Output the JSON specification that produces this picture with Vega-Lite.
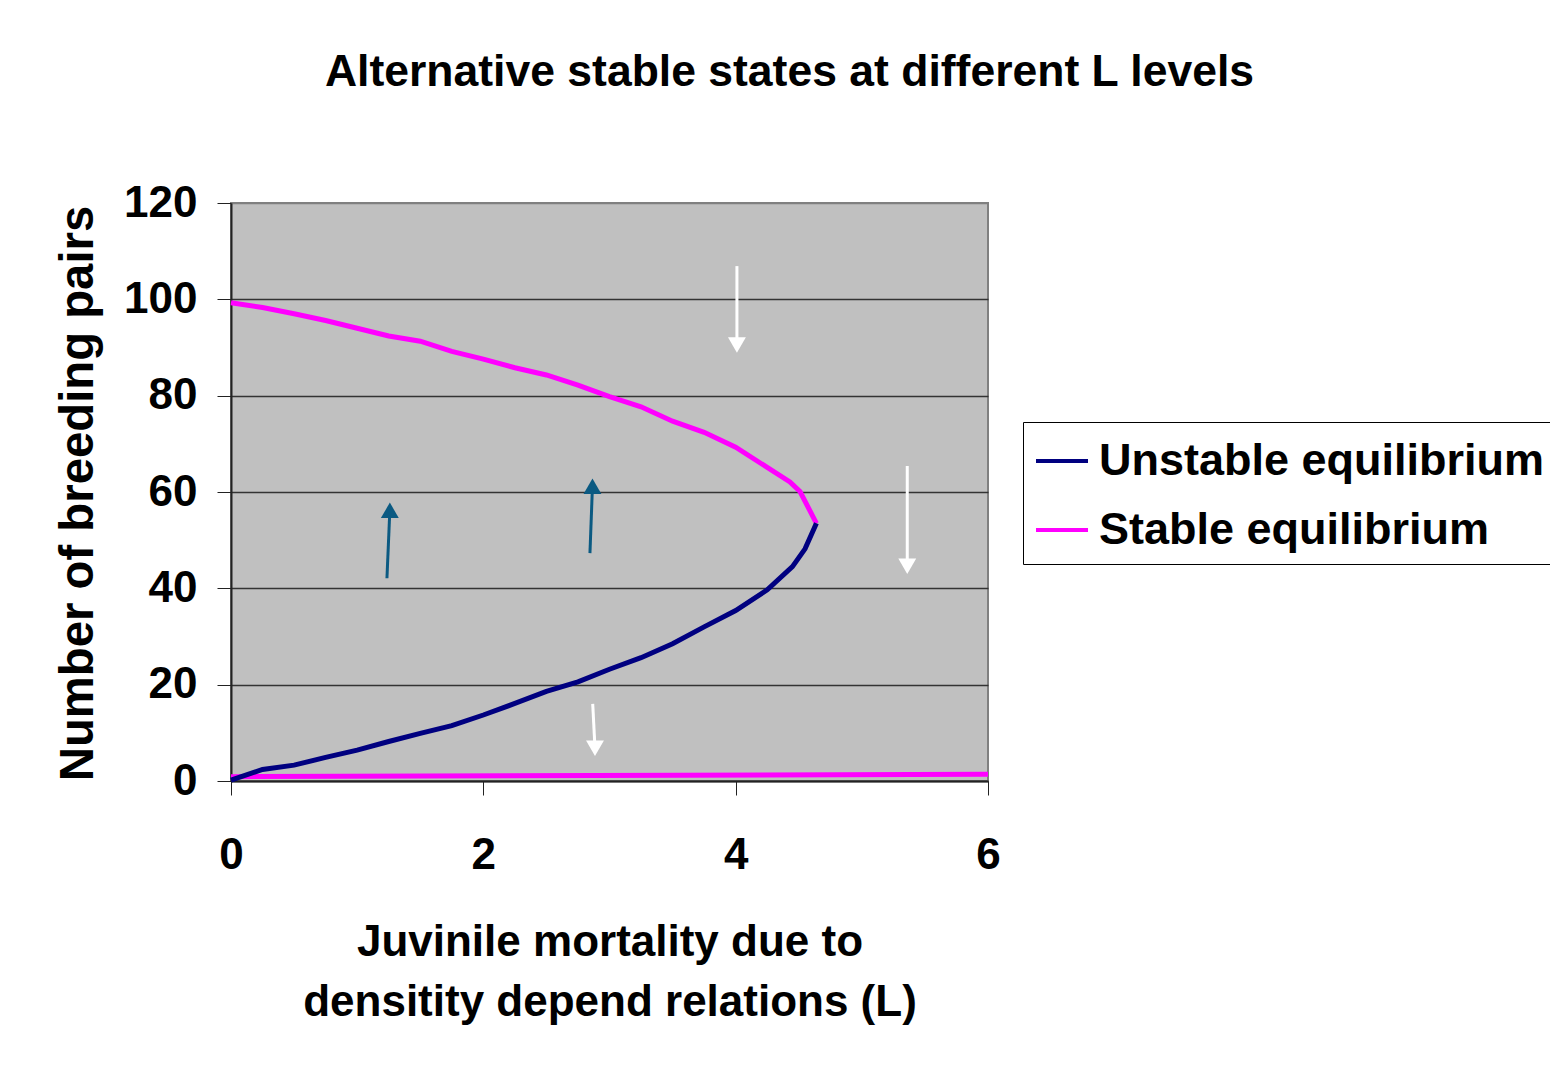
{
  "$schema": "https://vega.github.io/schema/vega-lite/v6.json",
  "width": 757,
  "height": 578,
  "autosize": {"type": "none"},
  "padding": {"left": 231, "top": 203, "right": 562, "bottom": 284},
  "background": "#FFFFFF",
  "title": {
    "text": "Alternative stable states at different L levels",
    "font": "Liberation Sans",
    "fontSize": 44.5,
    "fontWeight": "bold",
    "color": "#000000",
    "anchor": "middle",
    "frame": "group",
    "dx": 180,
    "offset": 51,
    "baseline": "alphabetic"
  },
  "config": {
    "view": {"fill": "#C0C0C0", "stroke": "#808080", "strokeWidth": 2},
    "font": "Liberation Sans",
    "axis": {
      "labelFont": "Liberation Sans",
      "labelFontSize": 44,
      "labelFontWeight": "bold",
      "labelColor": "#000000",
      "labelFlush": false,
      "labelOverlap": false,
      "titleFont": "Liberation Sans",
      "titleFontWeight": "bold",
      "titleColor": "#000000",
      "domainColor": "#222222",
      "domainWidth": 2,
      "tickColor": "#222222",
      "tickWidth": 1,
      "tickSize": 14
    },
    "legend": {
      "orient": "none",
      "legendX": 792,
      "legendY": 219,
      "symbolType": "stroke",
      "symbolSize": 2704,
      "symbolStrokeWidth": 4,
      "labelFont": "Liberation Sans",
      "labelFontSize": 45,
      "labelFontWeight": "bold",
      "labelColor": "#000000",
      "labelOffset": 9,
      "labelLimit": 700,
      "rowPadding": 18,
      "padding": 11,
      "strokeColor": "#000000",
      "fillColor": "#FFFFFF"
    }
  },
  "datasets": {
    "curves": [
      {"series": "Stable equilibrium", "branch": "upper", "L": 0, "N": 99.3},
      {"series": "Stable equilibrium", "branch": "upper", "L": 0.25, "N": 98.3},
      {"series": "Stable equilibrium", "branch": "upper", "L": 0.5, "N": 97.0},
      {"series": "Stable equilibrium", "branch": "upper", "L": 0.75, "N": 95.6},
      {"series": "Stable equilibrium", "branch": "upper", "L": 1.0, "N": 94.0},
      {"series": "Stable equilibrium", "branch": "upper", "L": 1.25, "N": 92.4},
      {"series": "Stable equilibrium", "branch": "upper", "L": 1.5, "N": 91.3},
      {"series": "Stable equilibrium", "branch": "upper", "L": 1.75, "N": 89.2},
      {"series": "Stable equilibrium", "branch": "upper", "L": 2.0, "N": 87.6},
      {"series": "Stable equilibrium", "branch": "upper", "L": 2.25, "N": 85.8},
      {"series": "Stable equilibrium", "branch": "upper", "L": 2.5, "N": 84.3},
      {"series": "Stable equilibrium", "branch": "upper", "L": 2.75, "N": 82.2},
      {"series": "Stable equilibrium", "branch": "upper", "L": 3.0, "N": 79.8},
      {"series": "Stable equilibrium", "branch": "upper", "L": 3.25, "N": 77.7},
      {"series": "Stable equilibrium", "branch": "upper", "L": 3.5, "N": 74.7},
      {"series": "Stable equilibrium", "branch": "upper", "L": 3.75, "N": 72.4},
      {"series": "Stable equilibrium", "branch": "upper", "L": 4.0, "N": 69.3},
      {"series": "Stable equilibrium", "branch": "upper", "L": 4.25, "N": 65.1},
      {"series": "Stable equilibrium", "branch": "upper", "L": 4.43, "N": 62.1},
      {"series": "Stable equilibrium", "branch": "upper", "L": 4.51, "N": 60.1},
      {"series": "Stable equilibrium", "branch": "upper", "L": 4.64, "N": 53.5},
      {"series": "Stable equilibrium", "branch": "lower", "L": 0, "N": 0.9},
      {"series": "Stable equilibrium", "branch": "lower", "L": 6, "N": 1.4},
      {"series": "Unstable equilibrium", "branch": "middle", "L": 0, "N": 0.2},
      {"series": "Unstable equilibrium", "branch": "middle", "L": 0.25, "N": 2.4},
      {"series": "Unstable equilibrium", "branch": "middle", "L": 0.5, "N": 3.3},
      {"series": "Unstable equilibrium", "branch": "middle", "L": 0.75, "N": 4.9},
      {"series": "Unstable equilibrium", "branch": "middle", "L": 1.0, "N": 6.4},
      {"series": "Unstable equilibrium", "branch": "middle", "L": 1.25, "N": 8.2},
      {"series": "Unstable equilibrium", "branch": "middle", "L": 1.5, "N": 9.9},
      {"series": "Unstable equilibrium", "branch": "middle", "L": 1.75, "N": 11.5},
      {"series": "Unstable equilibrium", "branch": "middle", "L": 2.0, "N": 13.7},
      {"series": "Unstable equilibrium", "branch": "middle", "L": 2.25, "N": 16.1},
      {"series": "Unstable equilibrium", "branch": "middle", "L": 2.5, "N": 18.6},
      {"series": "Unstable equilibrium", "branch": "middle", "L": 2.75, "N": 20.6},
      {"series": "Unstable equilibrium", "branch": "middle", "L": 3.0, "N": 23.2},
      {"series": "Unstable equilibrium", "branch": "middle", "L": 3.25, "N": 25.6},
      {"series": "Unstable equilibrium", "branch": "middle", "L": 3.5, "N": 28.5},
      {"series": "Unstable equilibrium", "branch": "middle", "L": 3.75, "N": 32.0},
      {"series": "Unstable equilibrium", "branch": "middle", "L": 4.0, "N": 35.4},
      {"series": "Unstable equilibrium", "branch": "middle", "L": 4.25, "N": 39.7},
      {"series": "Unstable equilibrium", "branch": "middle", "L": 4.45, "N": 44.5},
      {"series": "Unstable equilibrium", "branch": "middle", "L": 4.55, "N": 48.2},
      {"series": "Unstable equilibrium", "branch": "middle", "L": 4.64, "N": 53.5}
    ],
    "arrows": [
      {"kind": "white", "L": 4.01, "N": 106.9, "HL": 4.01, "HN": 90.5},
      {"kind": "white", "L": 5.36, "N": 65.4, "HL": 5.36, "HN": 44.6},
      {"kind": "white", "L": 2.867, "N": 16.0, "HL": 2.885, "HN": 6.8},
      {"kind": "dark", "L": 1.236, "N": 42.1, "HL": 1.259, "HN": 56.2},
      {"kind": "dark", "L": 2.845, "N": 47.3, "HL": 2.865, "HN": 61.2}
    ]
  },
  "layer": [
    {
      "data": {"name": "curves"},
      "mark": {"type": "line", "strokeWidth": 5, "clip": false},
      "encoding": {
        "x": {
          "field": "L", "type": "quantitative",
          "scale": {"domain": [0, 6], "nice": false},
          "axis": {
            "values": [0, 2, 4, 6],
            "format": "d",
            "grid": false,
            "labelPadding": 38,
            "title": ["Juvinile mortality due to", "densitity depend relations (L)"],
            "titleFontSize": 44,
            "titleLineHeight": 60,
            "titleBaseline": "alphabetic",
            "titleY": 174
          }
        },
        "y": {
          "field": "N", "type": "quantitative",
          "scale": {"domain": [0, 120], "nice": false},
          "axis": {
            "values": [0, 20, 40, 60, 80, 100, 120],
            "format": "d",
            "grid": true,
            "gridColor": {"condition": {"test": "datum.value === 120", "value": "#808080"}, "value": "#333333"},
            "gridWidth": 1.5,
            "labelPadding": 20,
            "title": "Number of breeding pairs",
            "titleFontSize": 47.3,
            "titleAngle": -90,
            "titleAlign": "center",
            "titleBaseline": "alphabetic",
            "titleX": -139,
            "titleY": 290
          }
        },
        "color": {
          "field": "series", "type": "nominal",
          "scale": {"domain": ["Unstable equilibrium", "Stable equilibrium"], "range": ["#000080", "#FF00FF"]},
          "legend": {"title": null}
        },
        "detail": {"field": "branch"}
      }
    },
    {
      "data": {"name": "arrows"},
      "transform": [{"filter": "datum.kind === 'white'"}],
      "mark": {"type": "rule", "color": "#FFFFFF", "strokeWidth": 3},
      "encoding": {
        "x": {"field": "L", "type": "quantitative"},
        "y": {"field": "N", "type": "quantitative"},
        "x2": {"field": "HL"},
        "y2": {"field": "HN"}
      }
    },
    {
      "data": {"name": "arrows"},
      "transform": [{"filter": "datum.kind === 'white'"}],
      "mark": {"type": "point", "shape": "triangle-down", "filled": true, "size": 320, "color": "#FFFFFF", "opacity": 1},
      "encoding": {
        "x": {"field": "HL", "type": "quantitative"},
        "y": {"field": "HN", "type": "quantitative"}
      }
    },
    {
      "data": {"name": "arrows"},
      "transform": [{"filter": "datum.kind === 'dark'"}],
      "mark": {"type": "rule", "color": "#0B5A82", "strokeWidth": 3},
      "encoding": {
        "x": {"field": "L", "type": "quantitative"},
        "y": {"field": "N", "type": "quantitative"},
        "x2": {"field": "HL"},
        "y2": {"field": "HN"}
      }
    },
    {
      "data": {"name": "arrows"},
      "transform": [{"filter": "datum.kind === 'dark'"}],
      "mark": {"type": "point", "shape": "triangle-up", "filled": true, "size": 320, "color": "#0B5A82", "opacity": 1},
      "encoding": {
        "x": {"field": "HL", "type": "quantitative"},
        "y": {"field": "HN", "type": "quantitative"}
      }
    }
  ]
}
